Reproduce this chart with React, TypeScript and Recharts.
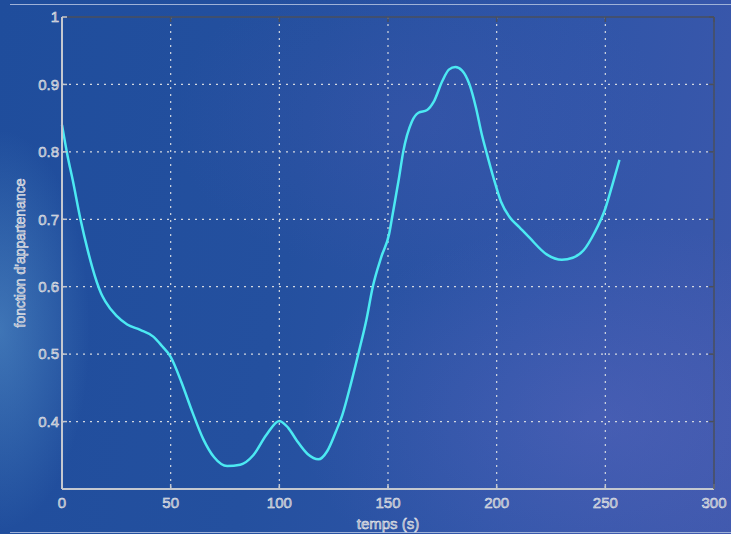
import { LineChart, Line, XAxis, YAxis, CartesianGrid } from "recharts";

// ── Data ──────────────────────────────────────────────────────────────────────
const TEMPS = [
  0, 2.5, 5, 8.5, 12, 14, 16, 18, 20, 25, 30, 36, 42, 46, 50, 55, 60, 65, 70, 76, 82, 88,
  94, 100, 104, 108, 113, 118, 122, 126, 129, 133, 137, 140, 143, 147, 150.5, 152,
  155, 157, 161, 164, 168, 171, 175, 178, 181, 184, 187.5, 190.5, 193, 195.5, 198.5,
  202, 206, 210.5, 215, 223, 230, 235, 240, 245, 250, 253.5, 256.5,
];
const APPARTENANCE = [
  0.84, 0.795, 0.757, 0.7, 0.652, 0.628, 0.607, 0.59, 0.578, 0.557, 0.544, 0.536, 0.526, 0.512,
  0.496, 0.458, 0.414, 0.374, 0.347, 0.334, 0.336, 0.35, 0.38, 0.401, 0.391, 0.372,
  0.352, 0.344, 0.356, 0.385, 0.41, 0.457, 0.509, 0.55, 0.6, 0.645, 0.678, 0.705,
  0.76, 0.8, 0.845, 0.858, 0.862, 0.874, 0.905, 0.922, 0.926, 0.921, 0.9, 0.865,
  0.828, 0.797, 0.762, 0.726, 0.703, 0.688, 0.673, 0.648, 0.64, 0.643, 0.654, 0.68,
  0.716, 0.754, 0.788,
];
const X_TICKS = [0, 50, 100, 150, 200, 250, 300];
const Y_TICKS = [0.4, 0.5, 0.6, 0.7, 0.8, 0.9, 1];
const X_GRID = [50, 100, 150, 200, 250];
const Y_GRID = [0.4, 0.5, 0.6, 0.7, 0.8, 0.9];

const data = TEMPS.map((t, i) => ({ t, v: APPARTENANCE[i] }));

// ── Theme ─────────────────────────────────────────────────────────────────────
const W = 731;
const H = 534;
const CYAN = "#4ce9f2";
const AXIS_LIGHT = "#c4c8d0";
const AXIS_DARK = "#4a4f5c";
const GRID = "#d4d8e0";
const FONT = "Liberation Sans, Arial, sans-serif";
const tickText = {
  fill: "#9da3b4",
  stroke: "#eef0f4",
  strokeWidth: 0.5,
  fontSize: 15,
  fontFamily: FONT,
};

export default function App() {
  return (
    <div
      style={{
        position: "fixed",
        left: 0,
        top: 0,
        width: W,
        height: H,
        overflow: "hidden",
        background:
          "radial-gradient(ellipse 90px 200px at 0px 330px, rgba(120,190,230,0.35), rgba(120,190,230,0) 100%)," +
          "radial-gradient(ellipse 300px 200px at 600px 420px, rgba(110,110,200,0.3), rgba(110,110,200,0) 100%)," +
          "radial-gradient(ellipse 250px 160px at 420px 120px, rgba(80,90,180,0.25), rgba(80,90,180,0) 100%)," +
          "linear-gradient(100deg, #1f4d9c 0%, #24509f 40%, #2f55a8 70%, #3d58ac 100%)",
      }}
    >
      <div style={{ position: "absolute", left: 10, right: 0, top: 4, height: 1, background: "#9fb2d8" }} />
      <div style={{ position: "absolute", left: 10, right: 0, top: 532, height: 1, background: "#9fb2d8" }} />
      <LineChart
        width={W}
        height={H}
        data={data}
        margin={{ top: 17, right: 17, bottom: 0, left: 0 }}
        style={{ position: "absolute", left: 0, top: 0 }}
      >
        <CartesianGrid
          stroke={GRID}
          strokeDasharray="2 5"
          strokeWidth={1.2}
          horizontalValues={Y_GRID}
          verticalValues={X_GRID}
        />
        <XAxis
          dataKey="t"
          type="number"
          domain={[0, 300]}
          ticks={X_TICKS}
          height={45}
          tickLine={false}
          tickSize={4}
          tickMargin={4}
          axisLine={{ stroke: AXIS_LIGHT, strokeWidth: 2 }}
          tick={tickText}
          label={{
            value: "temps (s)",
            position: "insideBottom",
            offset: 5,
            style: { ...tickText, fontSize: 15, textAnchor: "middle" },
          }}
        />
        <XAxis
          xAxisId="bottomTicks"
          dataKey="t"
          type="number"
          domain={[0, 300]}
          ticks={X_TICKS}
          mirror
          tickSize={5}
          axisLine={false}
          tickLine={{ stroke: AXIS_LIGHT, strokeWidth: 1.5 }}
          tickFormatter={() => ""}
        />
        <XAxis
          xAxisId="top"
          orientation="top"
          dataKey="t"
          type="number"
          domain={[0, 300]}
          ticks={X_TICKS}
          mirror
          tickSize={5}
          axisLine={{ stroke: AXIS_DARK, strokeWidth: 1.5 }}
          tickLine={{ stroke: AXIS_DARK, strokeWidth: 1.5 }}
          tickFormatter={() => ""}
        />
        <YAxis
          type="number"
          domain={[0.3, 1]}
          ticks={Y_TICKS}
          width={62}
          tickLine={false}
          tickSize={0}
          tickMargin={3}
          axisLine={{ stroke: AXIS_LIGHT, strokeWidth: 2 }}
          tick={tickText}
          tickFormatter={(v: number) => (v === 1 ? "1" : v.toFixed(1))}
          label={{
            value: "fonction d'appartenance",
            angle: -90,
            position: "insideLeft",
            offset: 20,
            style: { ...tickText, fontSize: 14, textAnchor: "middle" },
          }}
        />
        <YAxis
          yAxisId="leftTicks"
          type="number"
          domain={[0.3, 1]}
          ticks={Y_TICKS}
          mirror
          tickSize={5}
          axisLine={false}
          tickLine={{ stroke: AXIS_LIGHT, strokeWidth: 1.5 }}
          tickFormatter={() => ""}
        />
        <YAxis
          yAxisId="right"
          orientation="right"
          type="number"
          domain={[0.3, 1]}
          ticks={Y_TICKS}
          mirror
          tickSize={5}
          axisLine={{ stroke: AXIS_DARK, strokeWidth: 1.5 }}
          tickLine={{ stroke: AXIS_DARK, strokeWidth: 1.5 }}
          tickFormatter={() => ""}
        />
        {/* invisible series so the box / inner-tick axes get drawn */}
        <Line xAxisId="top" yAxisId="right" dataKey="v" stroke="none" dot={false} isAnimationActive={false} />
        <Line xAxisId="bottomTicks" yAxisId="leftTicks" dataKey="v" stroke="none" dot={false} isAnimationActive={false} />
        <Line
          type="monotone"
          dataKey="v"
          stroke={CYAN}
          strokeWidth={2.5}
          dot={false}
          isAnimationActive={false}
        />
      </LineChart>
    </div>
  );
}
